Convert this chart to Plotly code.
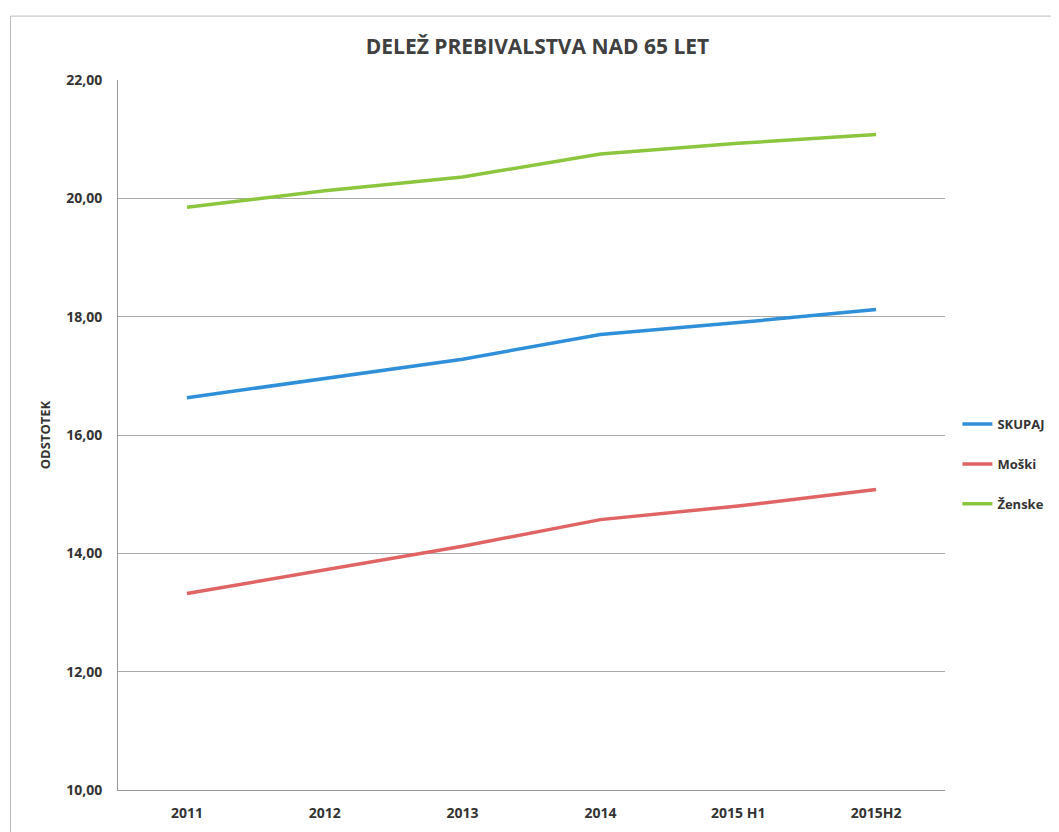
import plotly.graph_objects as go

categories = ["2011", "2012", "2013", "2014", "2015 H1", "2015H2"]
skupaj = [16.63, 16.95, 17.28, 17.70, 17.90, 18.12]
moski = [13.32, 13.72, 14.12, 14.57, 14.80, 15.08]
zenske = [19.85, 20.13, 20.36, 20.75, 20.93, 21.08]

series = [
    ("<b>SKUPAJ</b>", skupaj, "#2f8fd8"),
    ("<b>Moški</b>", moski, "#e06464"),
    ("<b>Ženske</b>", zenske, "#8cc63e"),
]

fig = go.Figure()
for i, (name, vals, col) in enumerate(series):
    fig.add_trace(go.Scatter(x=categories, y=vals, name=name, mode="lines",
                             legendgroup=f"g{i}",
                             line=dict(color=col, width=3.5)))

font_family = "Open Sans, Lato, sans-serif"
fig.update_layout(
    width=1059, height=832,
    paper_bgcolor="white", plot_bgcolor="white",
    margin=dict(l=110, r=122, t=72, b=50),
    title=dict(text="<b>DELEŽ PREBIVALSTVA NAD 65 LET</b>", x=0.5, xanchor="center",
               y=0.953, yanchor="middle",
               font=dict(family=font_family, size=21, color="#404040")),
    font=dict(family=font_family, color="#404040"),
    showlegend=True,
    legend=dict(x=1.015, y=0.459, xanchor="left", yanchor="middle",
                font=dict(size=13, color="#333333", family=font_family),
                itemwidth=30, tracegroupgap=20, bgcolor="rgba(0,0,0,0)"),
    xaxis=dict(range=[-0.5, 5.5], showgrid=False, showline=True,
               linecolor="#999999", linewidth=1,
               ticks="outside", ticklen=10, tickcolor="white",
               tickfont=dict(size=14, color="#333333", family=font_family),
               tickprefix="<b>", ticksuffix="</b>"),
    yaxis=dict(range=[10, 22], dtick=2, tickformat=".2f",
               showgrid=True, gridcolor="#a8a8a8", gridwidth=1,
               showline=True, linecolor="#999999", linewidth=1, zeroline=False,
               ticks="outside", ticklen=12, tickcolor="white",
               tickfont=dict(size=14, color="#333333", family=font_family),
               tickprefix="<b>", ticksuffix="</b>",
               title=dict(text="<b>ODSTOTEK</b>", standoff=12,
                          font=dict(size=13, color="#333333", family=font_family))),
    separators=",.",
)

fig.add_shape(type="rect", xref="paper", yref="paper",
              x0=-0.13, x1=1.2, y0=-0.2, y1=1.09,
              line=dict(color="#bbbbbb", width=1))

fig.write_html("out.html")
